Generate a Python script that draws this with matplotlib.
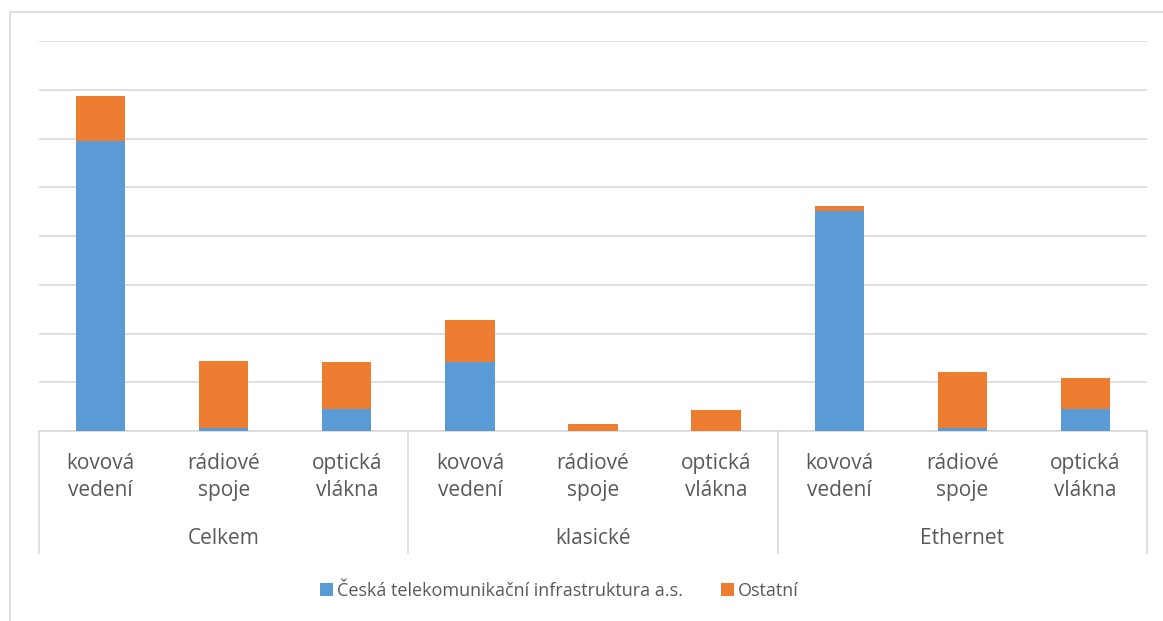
import matplotlib.pyplot as plt
from matplotlib.patches import Rectangle, Patch
from matplotlib.transforms import blended_transform_factory
import numpy as np

plt.rcParams['font.family'] = ['Open Sans', 'DejaVu Sans']

groups = ["Celkem", "klasické", "Ethernet"]
categories = ["kovová\nvedení", "rádiové\nspoje", "optická\nvlákna"] * 3
cetin = [5.95, 0.06, 0.45, 1.42, 0.0, 0.0, 4.52, 0.06, 0.45]
ostatni = [0.92, 1.38, 0.97, 0.86, 0.14, 0.43, 0.10, 1.14, 0.64]
series_names = ["Česká telekomunikační infrastruktura a.s.", "Ostatní"]

BLUE = '#5b9bd5'
ORANGE = '#ed7d31'
GRID = '#d9d9d9'
TXT = '#595959'

W, H = 1163, 621
fig = plt.figure(figsize=(W / 100, H / 100), dpi=100)
ax = fig.add_axes([39 / W, 1 - 431 / H, (1147 - 39) / W, (431 - 41) / H])

# outer chart frame (runs off the picture on right/bottom)
fig.patches.append(Rectangle((10 / W, -0.1), 1.2, 1 - 12 / H + 0.1,
                             transform=fig.transFigure, fill=False,
                             edgecolor=GRID, lw=1.2, zorder=0))

x = np.arange(len(cetin))
ax.bar(x, cetin, width=0.4, color=BLUE, zorder=3)
ax.bar(x, ostatni, width=0.4, bottom=cetin, color=ORANGE, zorder=3)

ax.set_xlim(-0.5, len(cetin) - 0.5)
ax.set_ylim(0, 8)
ax.set_yticks(np.arange(0, 9))
ax.yaxis.grid(True, color=GRID, lw=1.2)
ax.set_axisbelow(True)
ax.tick_params(left=False, bottom=False, labelleft=False, labelbottom=False)
for s in ['left', 'right', 'top']:
    ax.spines[s].set_visible(False)
ax.spines['bottom'].set_color(GRID)
ax.spines['bottom'].set_linewidth(1.2)

tr = blended_transform_factory(ax.transData, fig.transFigure)
for i, lab in enumerate(categories):
    ax.text(i, 1 - 477 / H, lab, transform=tr, ha='center', va='center',
            fontsize=15, color=TXT, linespacing=1.42, clip_on=False)
for g, name in enumerate(groups):
    ax.text(g * 3 + 1, 1 - 538 / H, name, transform=tr, ha='center',
            va='center', fontsize=15, color=TXT, clip_on=False)
for b in [-0.5, 2.5, 5.5, 8.5]:
    ax.plot([b, b], [1 - 431 / H, 1 - 553 / H], transform=tr, color=GRID,
            lw=1.2, clip_on=False)

handles = [Patch(facecolor=BLUE, label=series_names[0]),
           Patch(facecolor=ORANGE, label=series_names[1])]
leg = fig.legend(handles=handles, loc='center', bbox_to_anchor=(559 / W, 1 - 591 / H),
                 ncol=2, frameon=False, fontsize=13, handlelength=0.75,
                 handleheight=0.75, handletextpad=0.2, columnspacing=2.1)
for t in leg.get_texts():
    t.set_color(TXT)

fig.savefig('out.png', dpi=100)
